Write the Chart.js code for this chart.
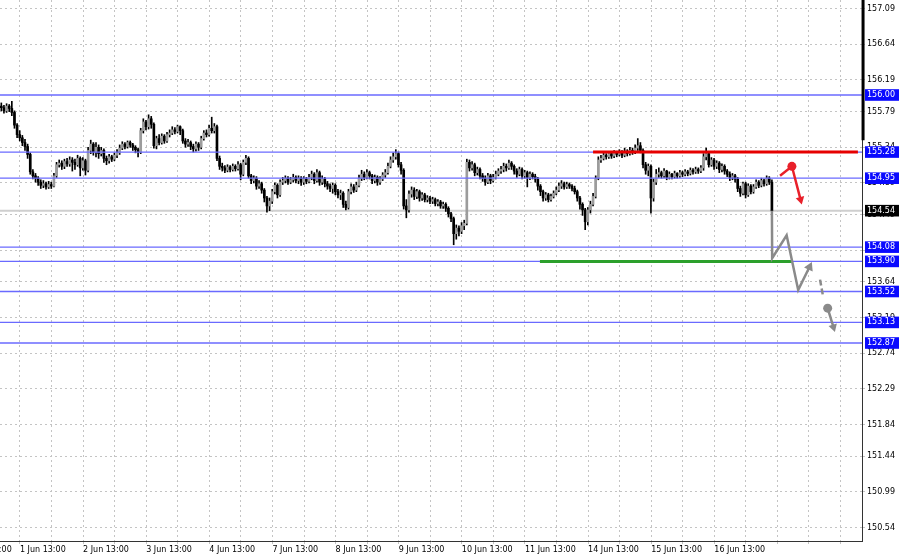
<!DOCTYPE html>
<html>
<head>
<meta charset="utf-8">
<script src="https://cdn.jsdelivr.net/npm/chart.js@4.4.0/dist/chart.umd.min.js"></script>
<style>
html, body { margin: 0; padding: 0; background: #fff; }
canvas { display: block; }
</style>
</head>
<body>
<canvas id="chart" width="900" height="557"></canvas>
<script>
// GBPJPY H1 candles, 31 May - 17 Jun
const firstOpen = 155.86;

const closes = [
  155.84,155.80,155.86,155.83,155.78,155.62,155.50,155.46,155.40,155.35,
  155.25,155.03,154.98,154.95,154.90,154.86,154.88,154.84,154.87,154.85,
  154.98,155.12,155.14,155.10,155.16,155.13,155.18,155.15,155.12,155.20,
  155.08,155.17,155.05,155.30,155.38,155.28,155.34,155.26,155.30,155.20,
  155.17,155.22,155.19,155.24,155.27,155.33,155.38,155.35,155.40,155.37,
  155.34,155.31,155.28,155.55,155.66,155.60,155.70,155.63,155.36,155.45,
  155.40,155.48,155.42,155.50,155.52,155.56,155.54,155.60,155.55,155.42,
  155.38,155.40,155.35,155.32,155.38,155.34,155.45,155.52,155.50,155.58,
  155.55,155.60,155.20,155.10,155.08,155.05,155.09,155.06,155.10,155.07,
  155.12,155.00,155.15,155.20,154.98,154.92,154.95,154.85,154.88,154.80,
  154.70,154.60,154.66,154.78,154.86,154.74,154.90,154.92,154.95,154.90,
  154.93,154.96,154.92,154.95,154.90,154.94,154.91,154.96,155.00,154.92,
  155.02,154.90,154.94,154.88,154.85,154.82,154.86,154.78,154.74,154.76,
  154.62,154.58,154.78,154.84,154.80,154.86,154.95,155.00,154.96,155.02,
  154.98,154.92,154.96,154.90,154.94,154.99,155.02,155.10,155.18,155.22,
  155.26,155.12,155.05,154.60,154.55,154.75,154.80,154.72,154.78,154.70,
  154.74,154.68,154.70,154.66,154.68,154.63,154.65,154.60,154.62,154.57,
  154.50,154.44,154.25,154.32,154.28,154.35,154.38,155.15,155.08,155.12,
  155.02,155.06,154.98,154.95,154.90,154.98,154.92,154.96,155.00,155.04,
  155.06,155.10,155.08,155.14,155.10,155.04,155.00,155.06,154.98,155.02,
  154.96,155.00,154.97,154.94,154.85,154.78,154.70,154.74,154.68,154.72,
  154.76,154.80,154.85,154.88,154.84,154.87,154.85,154.82,154.78,154.70,
  154.62,154.55,154.40,154.55,154.62,154.72,154.95,155.18,155.20,155.24,
  155.22,155.26,155.23,155.27,155.25,155.28,155.24,155.29,155.26,155.30,
  155.28,155.33,155.36,155.30,155.12,155.05,155.10,154.70,154.90,155.00,
  155.02,154.98,155.04,154.96,155.00,154.97,155.01,154.98,155.02,155.00,
  155.03,155.01,155.05,155.03,155.06,155.04,155.08,155.22,155.26,155.12,
  155.18,155.10,155.14,155.06,155.10,155.04,155.00,154.96,154.98,154.94,
  154.82,154.76,154.88,154.74,154.85,154.78,154.84,154.90,154.86,154.92,
  154.88,154.95,154.90,154.54
];

const highs = [
  155.90,155.87,155.89,155.88,155.92,155.80,155.64,155.55,155.49,155.44,
  155.38,155.27,155.06,155.01,154.97,154.93,154.92,154.90,154.91,154.90,
  155.01,155.15,155.18,155.17,155.19,155.20,155.22,155.21,155.19,155.24,
  155.22,155.21,155.19,155.34,155.43,155.40,155.40,155.37,155.34,155.32,
  155.23,155.25,155.24,155.27,155.31,155.37,155.41,155.40,155.42,155.42,
  155.39,155.36,155.33,155.58,155.70,155.68,155.75,155.73,155.65,155.48,
  155.50,155.51,155.50,155.53,155.56,155.60,155.59,155.62,155.61,155.57,
  155.45,155.44,155.42,155.38,155.41,155.40,155.48,155.55,155.56,155.62,
  155.72,155.64,155.62,155.23,155.14,155.11,155.12,155.11,155.13,155.12,
  155.16,155.14,155.18,155.24,155.22,155.00,154.98,154.97,154.92,154.90,
  154.82,154.72,154.70,154.81,154.89,154.88,154.93,154.96,154.98,154.97,
  154.96,155.00,154.98,154.98,154.97,154.97,154.96,155.00,155.04,155.02,
  155.06,155.04,154.98,154.96,154.91,154.88,154.89,154.88,154.81,154.80,
  154.78,154.66,154.81,154.88,154.87,154.90,154.99,155.05,155.03,155.06,
  155.04,155.00,154.99,154.98,154.97,155.02,155.06,155.14,155.22,155.27,
  155.31,155.28,155.15,155.07,154.68,154.79,154.84,154.83,154.81,154.80,
  154.77,154.76,154.73,154.72,154.71,154.70,154.68,154.67,154.65,154.64,
  154.59,154.52,154.46,154.36,154.35,154.39,154.42,155.19,155.18,155.16,
  155.14,155.09,155.08,155.01,154.98,155.01,155.00,155.00,155.04,155.07,
  155.10,155.14,155.13,155.18,155.16,155.12,155.07,155.09,155.08,155.05,
  155.04,155.03,155.02,155.00,154.96,154.87,154.80,154.77,154.76,154.75,
  154.79,154.84,154.89,154.92,154.90,154.90,154.89,154.87,154.85,154.80,
  154.72,154.64,154.57,154.58,154.66,154.76,154.98,155.22,155.24,155.27,
  155.26,155.29,155.28,155.30,155.29,155.31,155.30,155.33,155.31,155.34,
  155.33,155.37,155.45,155.40,155.32,155.15,155.13,155.12,154.94,155.06,
  155.08,155.04,155.07,155.05,155.03,155.01,155.04,155.02,155.05,155.04,
  155.06,155.05,155.08,155.07,155.09,155.08,155.11,155.26,155.33,155.28,
  155.21,155.20,155.17,155.16,155.13,155.12,155.06,155.03,155.01,155.00,
  154.96,154.85,154.90,154.90,154.88,154.87,154.87,154.93,154.92,154.95,
  154.94,154.98,154.97,154.93
];

const lows = [
  155.80,155.77,155.78,155.79,155.74,155.58,155.46,155.42,155.36,155.30,
  155.20,155.00,154.94,154.90,154.86,154.82,154.83,154.81,154.82,154.82,
  154.84,154.96,155.09,155.06,155.07,155.10,155.10,155.04,155.06,155.10,
  154.98,155.05,154.99,155.03,155.26,155.24,155.22,155.20,155.23,155.15,
  155.12,155.14,155.16,155.17,155.21,155.25,155.31,155.32,155.33,155.34,
  155.30,155.27,155.22,155.26,155.52,155.56,155.57,155.58,155.33,155.32,
  155.37,155.38,155.39,155.40,155.47,155.50,155.51,155.52,155.50,155.39,
  155.34,155.35,155.31,155.28,155.29,155.30,155.32,155.43,155.47,155.48,
  155.52,155.52,155.17,155.06,155.04,155.02,155.03,155.03,155.04,155.04,
  155.05,154.93,154.98,155.12,154.95,154.88,154.89,154.81,154.82,154.76,
  154.65,154.52,154.54,154.63,154.75,154.70,154.72,154.87,154.89,154.87,
  154.88,154.90,154.89,154.88,154.86,154.87,154.88,154.89,154.93,154.88,
  154.90,154.86,154.87,154.84,154.81,154.78,154.76,154.74,154.70,154.68,
  154.58,154.55,154.56,154.75,154.77,154.78,154.84,154.92,154.93,154.94,
  154.94,154.88,154.89,154.86,154.87,154.92,154.96,155.00,155.08,155.15,
  155.19,155.09,155.00,154.56,154.45,154.52,154.71,154.68,154.69,154.66,
  154.67,154.65,154.65,154.63,154.63,154.60,154.60,154.57,154.57,154.53,
  154.46,154.40,154.11,154.18,154.22,154.25,154.30,154.36,155.04,155.05,
  154.98,154.99,154.94,154.91,154.86,154.88,154.88,154.90,154.94,154.98,
  155.01,155.03,155.04,155.06,155.06,155.00,154.96,154.98,154.94,154.95,
  154.84,154.93,154.94,154.90,154.80,154.73,154.66,154.67,154.65,154.66,
  154.70,154.74,154.78,154.82,154.81,154.82,154.82,154.79,154.75,154.66,
  154.56,154.48,154.30,154.36,154.51,154.60,154.70,154.93,155.15,155.18,
  155.19,155.20,155.20,155.21,155.22,155.23,155.21,155.22,155.23,155.24,
  155.25,155.26,155.30,155.27,155.08,155.00,154.98,154.51,154.66,154.87,
  154.96,154.95,154.96,154.93,154.94,154.94,154.95,154.95,154.96,154.97,
  154.98,154.98,154.99,155.00,155.01,155.01,155.02,155.05,155.18,155.09,
  155.10,155.06,155.07,155.02,155.03,155.00,154.97,154.92,154.93,154.90,
  154.78,154.72,154.74,154.70,154.72,154.75,154.76,154.82,154.83,154.84,
  154.85,154.86,154.87,154.52
];

// horizontal levels drawn on the chart, and the current bid
const levels = [156.00, 155.28, 154.95, 154.08, 153.90, 153.52, 153.13, 152.87];
const lastPrice = 154.54;

// price scale grid values (right axis)
const gridPrices = [157.09, 156.64, 156.19, 155.79, 155.34, 154.89, 154.49, 154.04,
                    153.64, 153.19, 152.74, 152.29, 151.84, 151.44, 150.99, 150.54];

// time axis labels, one per day at 13:00
const dayLabels = ['31 May 13:00', '1 Jun 13:00', '2 Jun 13:00', '3 Jun 13:00', '4 Jun 13:00',
                   '7 Jun 13:00', '8 Jun 13:00', '9 Jun 13:00', '10 Jun 13:00', '11 Jun 13:00',
                   '14 Jun 13:00', '15 Jun 13:00', '16 Jun 13:00'];
const firstLabelBar = -16.4;   // bar position of '31 May 13:00'

// drawn objects: (bar position, price)
const resistanceLine = [{ x: 225.5, y: 155.28 }, { x: 326.2, y: 155.28 }];
const supportLine = [{ x: 205.3, y: 153.90 }, { x: 301.5, y: 153.90 }];
const redArrow = [{ x: 296.6, y: 154.98 }, { x: 301.1, y: 155.10 }, { x: 304.4, y: 154.68 }];
const grayPath = [{ x: 293.5, y: 154.54 }, { x: 293.6, y: 153.94 }, { x: 299.1, y: 154.23 },
                  { x: 303.5, y: 153.54 }, { x: 307.8, y: 153.83 }];
const grayDash = [{ x: 311.8, y: 153.67 }, { x: 313.0, y: 153.45 }];
const grayArrow = [{ x: 314.7, y: 153.31 }, { x: 316.9, y: 153.07 }];

const X_MAX = 862 / 2.63;
const Y_MAX = 157.199;
const Y_MIN = 150.371;

const FONT = { family: 'DejaVu Sans', size: 8 };

// build candle pieces
const opens = closes.map((c, i) => i === 0 ? firstOpen : closes[i - 1]);
const bodyData = closes.map((c, i) => ({ x: i + 0.5, y: [opens[i], c] }));
const wickData = closes.map((c, i) => ({ x: i + 0.5, y: [lows[i], highs[i]] }));
const bodyColors = closes.map((c, i) => c >= opens[i] ? '#9c9c9c' : '#000000');

function hline(v) {
    return [{ x: 0, y: v }, { x: X_MAX, y: v }];
}

const datasets = [
    {
        type: 'bar', label: 'wicks', data: wickData, backgroundColor: '#000',
        barThickness: 1, grouped: false, order: 4
    },
    {
        type: 'bar', label: 'bodies', data: bodyData, backgroundColor: bodyColors,
        barThickness: 2, grouped: false, order: 3
    },
    {
        type: 'line', label: 'bid', data: hline(lastPrice), borderColor: '#cfcfcf',
        borderWidth: 2, pointRadius: 0, order: 5
    }
];

levels.forEach(v => {
    datasets.push({
        type: 'line', label: 'level ' + v, data: hline(v), borderColor: '#6a6aff',
        borderWidth: 1.3, pointRadius: 0, order: 2
    });
});

datasets.push(
    {
        type: 'line', label: 'resistance', data: resistanceLine, borderColor: '#e60000',
        borderWidth: 3, pointRadius: 0, order: 1
    },
    {
        type: 'line', label: 'support', data: supportLine, borderColor: '#2ca02c',
        borderWidth: 3, pointRadius: 0, order: 1
    },
    {
        type: 'line', label: 'red arrow', data: redArrow, borderColor: '#e8202a',
        borderWidth: 2.5, order: 0,
        pointStyle: ['circle', 'circle', 'triangle'], pointRadius: [0, 4.5, 5],
        pointRotation: [0, 0, 166], pointBackgroundColor: '#e8202a', pointBorderWidth: 0
    },
    {
        type: 'line', label: 'gray path', data: grayPath, borderColor: '#8a8a8a',
        borderWidth: 2.5, order: 0, borderJoinStyle: 'miter',
        pointStyle: 'triangle', pointRadius: [0, 0, 0, 0, 5.5],
        pointRotation: 25, pointBackgroundColor: '#8a8a8a', pointBorderWidth: 0
    },
    {
        type: 'line', label: 'gray dash', data: grayDash, borderColor: '#8a8a8a',
        borderWidth: 2.5, borderDash: [6, 3], pointRadius: 0, order: 0
    },
    {
        type: 'line', label: 'gray arrow', data: grayArrow, borderColor: '#8a8a8a',
        borderWidth: 2.5, order: 0,
        pointStyle: ['circle', 'triangle'], pointRadius: [4.5, 5],
        pointRotation: [0, 163], pointBackgroundColor: '#8a8a8a', pointBorderWidth: 0
    },
    {
        type: 'line', label: 'axis mark', data: [{ x: X_MAX + 0.4, y: Y_MAX }, { x: X_MAX + 0.4, y: 155.43 }],
        borderColor: '#000', borderWidth: 3, pointRadius: 0, order: 0, clip: false
    }
);

function isMarked(ctx) {
    return !!(ctx.tick && ctx.tick.kind && ctx.tick.kind !== 'grid');
}

new Chart(document.getElementById('chart'), {
    type: 'bar',
    data: { datasets: datasets },
    options: {
        responsive: false,
        animation: false,
        events: [],
        layout: { padding: 0, autoPadding: false },
        plugins: { legend: { display: false }, tooltip: { enabled: false } },
        scales: {
            x: {
                type: 'linear',
                min: 0,
                max: X_MAX,
                offset: false,
                afterBuildTicks: scale => {
                    const ticks = [];
                    for (let k = 0; firstLabelBar + 12 * k < X_MAX; k++) {
                        const name = k % 2 === 0 && dayLabels[k / 2] ? dayLabels[k / 2] : '';
                        ticks.push({ value: firstLabelBar + 12 * k, name: name });
                    }
                    scale.ticks = ticks;
                },
                afterFit: scale => {
                    scale.height = 16;
                    scale.paddingLeft = 0;
                    scale.paddingRight = 0;
                },
                ticks: {
                    autoSkip: false,
                    maxRotation: 0,
                    align: 'start',
                    padding: 1,
                    color: '#000',
                    font: FONT,
                    callback: (v, i, ticks) => ticks[i].name
                },
                grid: { color: '#c4c4c4', tickLength: 3, offset: false },
                border: { color: '#333', dash: [2, 3] }
            },
            y: {
                type: 'linear',
                position: 'right',
                min: Y_MIN,
                max: Y_MAX,
                afterBuildTicks: scale => {
                    scale.ticks = gridPrices.map(v => ({ value: v, kind: 'grid' }))
                        .concat(levels.map(v => ({ value: v, kind: 'level' })))
                        .concat([{ value: lastPrice, kind: 'last' }]);
                },
                afterFit: scale => {
                    scale.width = 38;
                    scale.paddingTop = 0;
                    scale.paddingBottom = 0;
                },
                ticks: {
                    autoSkip: false,
                    padding: 2,
                    font: FONT,
                    callback: v => v.toFixed(2),
                    color: ctx => isMarked(ctx) ? '#fff' : '#000',
                    showLabelBackdrop: ctx => isMarked(ctx),
                    backdropColor: ctx => ctx.tick && ctx.tick.kind === 'last' ? '#000' : '#0a0aff',
                    backdropPadding: { left: 2, right: 4, top: 1, bottom: 1 }
                },
                grid: {
                    color: ctx => isMarked(ctx) ? 'rgba(0,0,0,0)' : '#c4c4c4',
                    tickLength: 3
                },
                border: { color: '#333', dash: [2, 3] }
            }
        }
    }
});
</script>
</body>
</html>
